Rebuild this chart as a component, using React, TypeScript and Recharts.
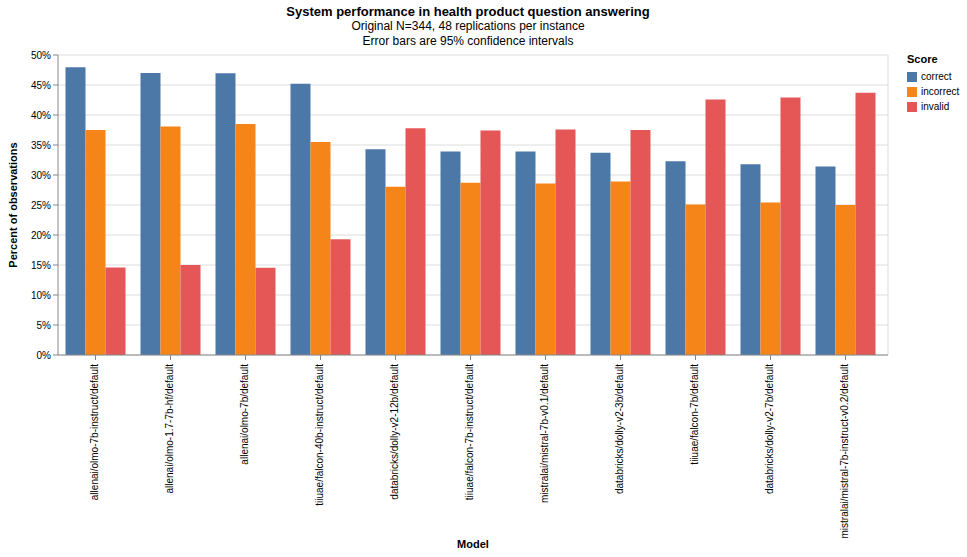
import React from 'react';
import { BarChart, Bar, XAxis, YAxis, CartesianGrid } from 'recharts';

const FONT = '"Liberation Sans", Arial, Helvetica, sans-serif';

const models = [
  'allenai/olmo-7b-instruct/default',
  'allenai/olmo-1.7-7b-hf/default',
  'allenai/olmo-7b/default',
  'tiiuae/falcon-40b-instruct/default',
  'databricks/dolly-v2-12b/default',
  'tiiuae/falcon-7b-instruct/default',
  'mistralai/mistral-7b-v0.1/default',
  'databricks/dolly-v2-3b/default',
  'tiiuae/falcon-7b/default',
  'databricks/dolly-v2-7b/default',
  'mistralai/mistral-7b-instruct-v0.2/default',
];

const correct = [47.95, 47.0, 46.95, 45.2, 34.3, 33.9, 33.9, 33.7, 32.3, 31.8, 31.4];
const incorrect = [37.5, 38.1, 38.5, 35.5, 28.05, 28.7, 28.6, 28.9, 25.1, 25.4, 25.0];
const invalid = [14.6, 15.0, 14.55, 19.3, 37.8, 37.4, 37.6, 37.5, 42.6, 42.9, 43.7];

const yTicks = [0, 5, 10, 15, 20, 25, 30, 35, 40, 45, 50];

const series = [
  { key: 'correct', color: '#4c78a8' },
  { key: 'incorrect', color: '#f58518' },
  { key: 'invalid', color: '#e45756' },
];

const data = models.map((model, i) => ({
  model,
  correct: correct[i],
  incorrect: incorrect[i],
  invalid: invalid[i],
}));

const ModelTick = ({ x, y, payload }: any) => (
  <g transform={`translate(${x},${y + 2})`}>
    <text transform="rotate(-90)" textAnchor="end" dy="0.28em" fontSize={10} fill="#000" fontFamily={FONT}>
      {payload.value}
    </text>
  </g>
);

// legend drawn as plain html so it doesn't eat into the plot width
const ScoreLegend = () => (
  <div style={{ position: 'absolute', left: 907, top: 53, fontFamily: FONT, fontSize: 10, color: '#000' }}>
    <div style={{ fontWeight: 'bold', fontSize: 11, marginBottom: 4 }}>Score</div>
    {series.map((s) => (
      <div key={s.key} style={{ display: 'flex', alignItems: 'center', height: 15 }}>
        <span style={{ width: 10, height: 10, background: s.color, marginRight: 4, display: 'inline-block' }} />
        <span>{s.key}</span>
      </div>
    ))}
  </div>
);

export default function App() {
  return (
    <div style={{ position: 'absolute', left: 0, top: 0, width: 967, height: 557, background: '#fff', fontFamily: FONT }}>
      <div style={{ position: 'absolute', left: 0, width: 936, top: 4, textAlign: 'center', color: '#000' }}>
        <div style={{ fontWeight: 'bold', fontSize: 13, lineHeight: '15px' }}>
          System performance in health product question answering
        </div>
        <div style={{ fontSize: 12, lineHeight: '15px' }}>Original N=344, 48 replications per instance</div>
        <div style={{ fontSize: 12, lineHeight: '15px' }}>Error bars are 95% confidence intervals</div>
      </div>
      <div
        style={{
          position: 'absolute',
          left: 13,
          top: 205,
          transform: 'translate(-50%, -50%) rotate(-90deg)',
          fontWeight: 'bold',
          fontSize: 11,
          whiteSpace: 'nowrap',
        }}
      >
        Percent of observations
      </div>
      <div style={{ position: 'absolute', left: 473, top: 544, transform: 'translate(-50%, -50%)', fontWeight: 'bold', fontSize: 11 }}>
        Model
      </div>
      <ScoreLegend />
      <BarChart
        width={967}
        height={557}
        data={data}
        margin={{ top: 55, right: 79, bottom: 0, left: 8 }}
        barCategoryGap={7.5}
        barGap={0}
      >
        <CartesianGrid
          stroke="#ddd"
          verticalCoordinatesGenerator={({ offset }: any) => [offset.left + offset.width]}
        />
        <XAxis
          dataKey="model"
          interval={0}
          height={202}
          padding={{ left: 0, right: 5 }}
          axisLine={{ stroke: '#888' }}
          tickLine={{ stroke: '#888' }}
          tickSize={5}
          tick={<ModelTick />}
        />
        <YAxis
          width={50}
          domain={[0, 50]}
          ticks={yTicks}
          tickFormatter={(v) => `${v}%`}
          axisLine={{ stroke: '#888' }}
          tickLine={{ stroke: '#888' }}
          tickSize={5}
          tickMargin={2}
          tick={{ fontSize: 10, fill: '#000', fontFamily: FONT }}
        />
        {series.map((s) => (
          <Bar key={s.key} dataKey={s.key} fill={s.color} isAnimationActive={false} />
        ))}
      </BarChart>
    </div>
  );
}
